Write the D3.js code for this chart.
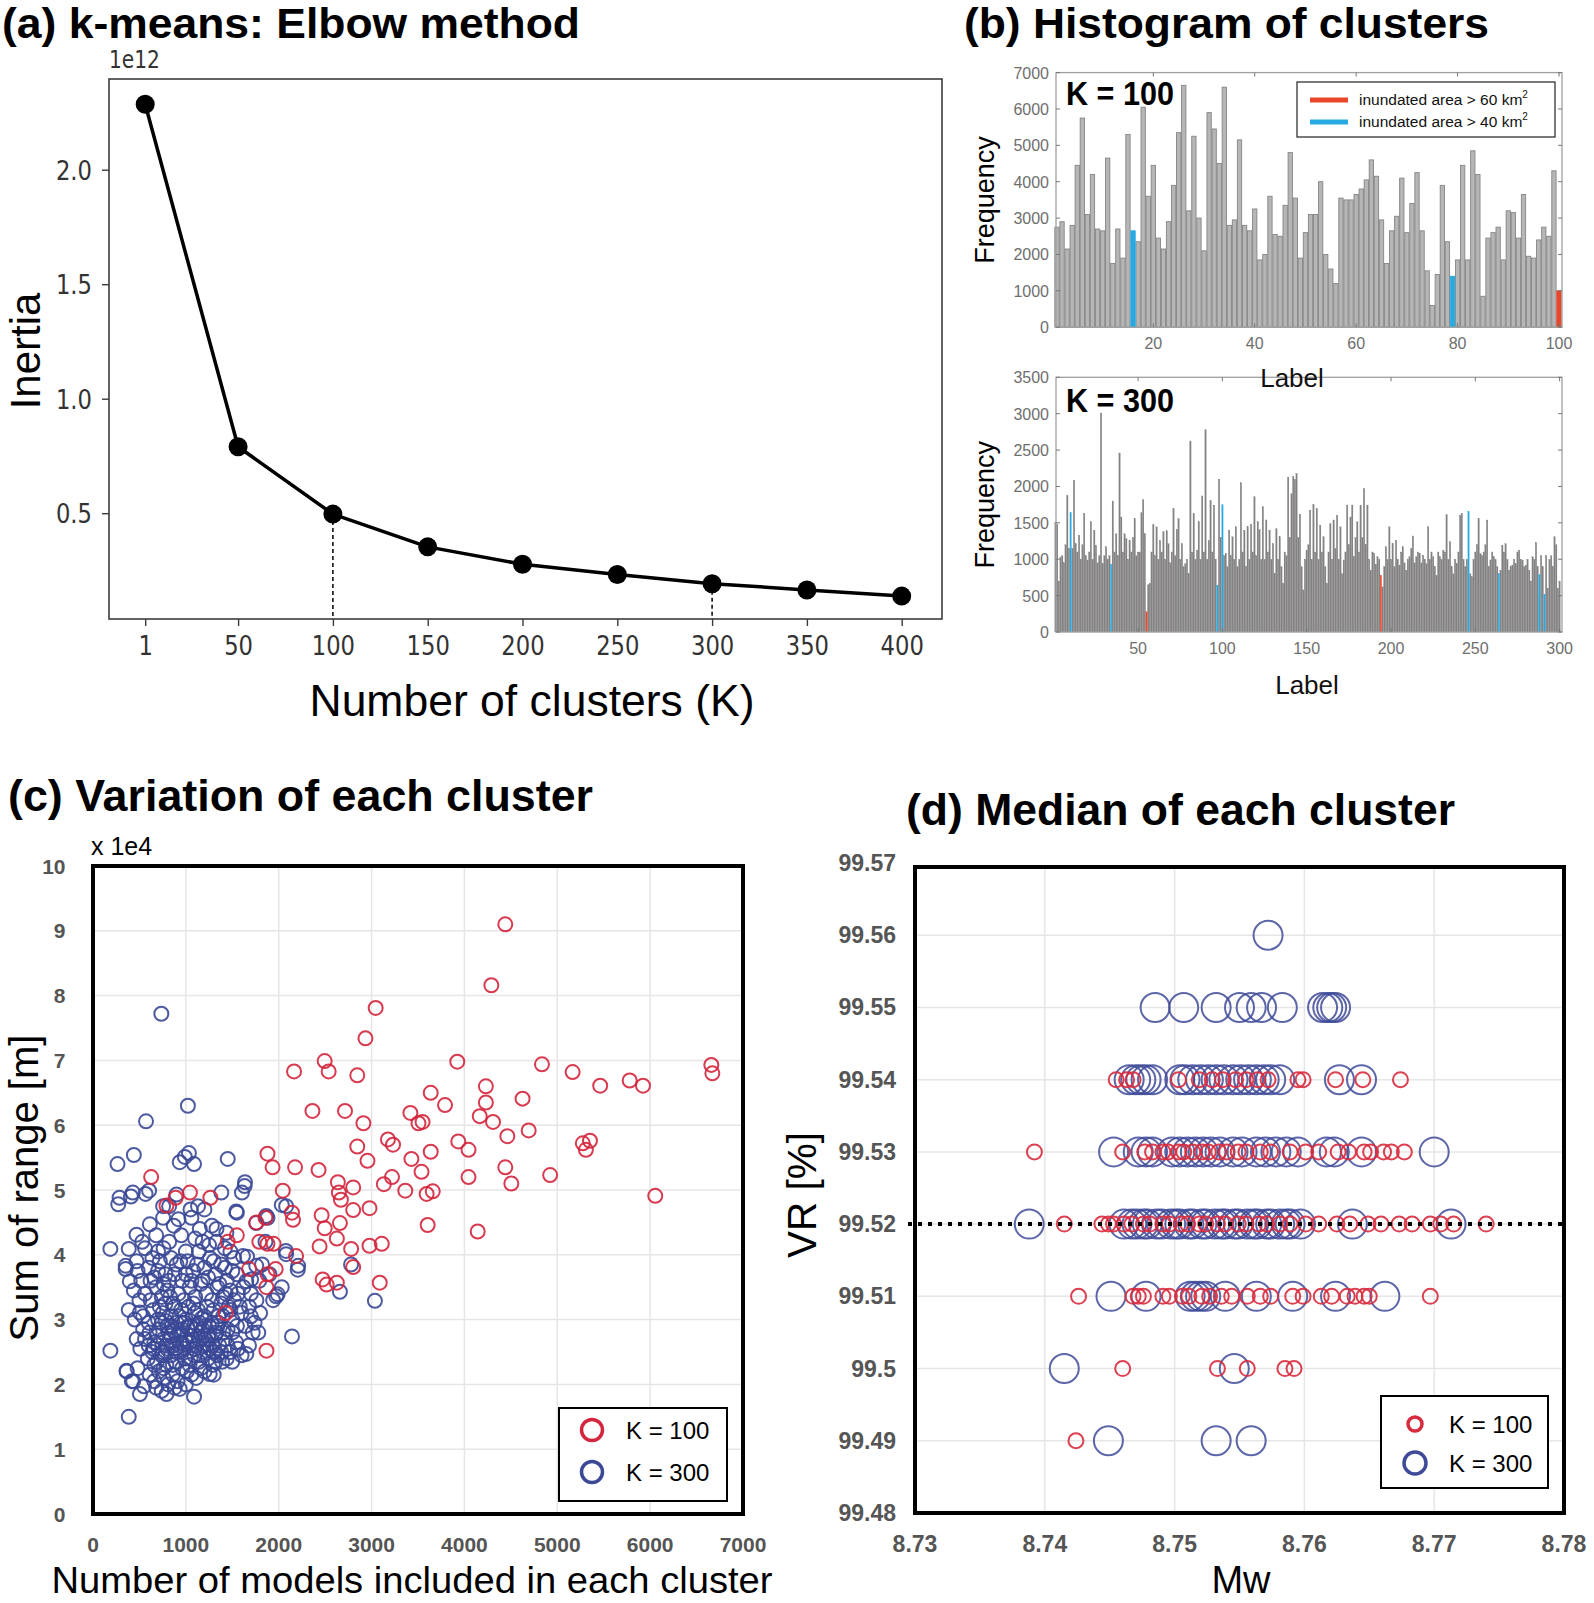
<!DOCTYPE html>
<html>
<head>
<meta charset="utf-8">
<script src="https://cdn.jsdelivr.net/npm/d3@7/dist/d3.min.js"></script>
<style>
html,body{margin:0;padding:0;background:#fff;}
svg{display:block;}
</style>
</head>
<body>
<svg id="fig" width="1594" height="1603" xmlns="http://www.w3.org/2000/svg"></svg>
<script>
// ---------------- (a) Elbow method ----------------
const elbowK = [1, 50, 100, 150, 200, 250, 300, 350, 400];
const elbowInertia = [2.286, 0.790, 0.496, 0.353, 0.277, 0.232, 0.192, 0.165, 0.138]; // x 1e12
const elbowXTicks = [1, 50, 100, 150, 200, 250, 300, 350, 400];
const elbowYTicks = [0.5, 1.0, 1.5, 2.0];
const elbowMarked = [100, 300];

// ---------------- (b) Histograms ----------------
const hist100 = [2750,2900,2150,2800,4450,5750,3100,4200,2700,2650,
4650,1750,2700,1900,5300,2650,2350,6050,3600,4450,
2450,2150,2900,3900,5350,6650,3200,5250,3000,2100,
5900,5450,4500,6600,2800,2950,5150,2800,2650,3250,
1850,2000,3600,2550,2500,3350,4800,3550,1900,2600,
3100,3100,4000,2000,1600,1200,3550,3500,3500,3650,
3800,4050,4600,4150,2950,1750,2650,3050,4100,2600,
3400,4250,2650,1550,600,1450,3900,2350,1400,1850,
4450,1850,4850,4200,850,2450,2600,2750,1850,3200,
3150,2450,3650,1950,1900,2400,2750,2500,4300,1000];
const hist100Blue = [16, 79];
const hist100Red = [100];
const hist100XTicks = [20, 40, 60, 80, 100];
const hist100YTicks = [0, 1000, 2000, 3000, 4000, 5000, 6000, 7000];

const hist300 = [1510,1480,700,1030,1050,950,1200,1880,1150,1640,
1150,2085,1215,1100,1330,1000,1200,1630,1050,990,
1100,1515,1000,1400,1190,950,1050,3010,940,1050,
1170,1000,1050,930,1800,1100,1350,1050,2460,1580,
1100,1350,1285,1000,1260,1100,1300,1560,1050,1100,
1100,1640,1820,1350,280,650,670,1100,1480,1050,
1445,1000,1260,1100,1380,1000,1390,1215,950,1100,
1700,1050,1410,1560,1000,1215,900,940,1000,800,
2625,1100,1630,1000,1125,1515,1000,1870,1100,2780,
1000,1255,1810,1100,1745,1000,645,2100,1300,1750,
1050,1080,900,1400,1050,1310,1000,1445,900,1000,
2050,1100,1400,900,1450,1000,1480,1100,1860,1050,
1515,1410,1000,1720,1000,1540,1100,1400,1000,1215,
800,1420,1000,1310,900,670,1100,1050,2130,1300,
1900,2140,2100,2180,1300,1620,900,580,1000,1125,
1200,1675,1000,1755,1100,1700,1000,1470,1100,1310,
900,670,1100,1490,1000,1540,1150,1605,1000,1445,
800,990,1100,1745,1200,1580,1745,1035,1300,1515,
1100,1745,1300,1970,1200,1745,1000,850,1100,1080,
930,1035,1000,780,620,900,1170,1000,1445,1000,
1220,900,1260,1000,920,1100,1170,950,850,1000,
1035,1150,1320,950,1035,1100,1080,950,1055,1000,
940,1445,1000,1100,1035,900,780,1100,1035,1000,
1125,1100,1615,1000,1240,900,800,1000,940,1100,
1605,1630,1000,900,1000,1660,800,760,1000,1100,
1200,1560,1080,1050,1100,1200,1540,900,990,1100,
1035,1000,900,800,850,1195,1100,1215,1000,850,
900,920,1000,940,1100,1125,1000,990,900,920,
1000,850,700,1035,1000,1230,900,790,1050,900,
520,1050,600,1000,1050,900,1310,1200,600,700];
const hist300Blue = [10, 34, 97, 100, 246, 264, 288, 291];
const hist300Red = [55, 194];
const hist300XTicks = [50, 100, 150, 200, 250, 300];
const hist300YTicks = [0, 500, 1000, 1500, 2000, 2500, 3000, 3500];
const histLegendLabels = ['inundated area > 60 km', 'inundated area > 40 km'];

// ---------------- (c) Variation of each cluster ----------------
// [number of models, sum of range (x 1e4 m)]
const varK100 = [[4440,9.10],[4290,8.16],[3044,7.81],[2934,7.34],[2495,6.99],[2538,6.83],[2165,6.83],[2846,6.77],[3923,6.98],[4835,6.94],
[5165,6.82],[5462,6.61],[5780,6.69],[5923,6.61],[6659,6.93],[6670,6.80],[2363,6.22],[2714,6.22],[3637,6.50],[3418,6.19],
[3505,6.03],[3549,6.05],[3791,6.31],[4231,6.60],[4231,6.35],[4165,6.14],[4308,6.05],[4626,6.41],[4462,5.83],[4692,5.92],
[3934,5.75],[4044,5.62],[3637,5.59],[4440,5.35],[4505,5.10],[4044,5.20],[4923,5.23],[5275,5.72],[5352,5.76],[5308,5.62],
[6055,4.91],[4143,4.36],[3538,5.28],[3593,4.94],[3659,4.98],[3604,4.46],[2912,6.03],[3176,5.78],[3231,5.70],[2956,5.45],
[3220,5.20],[3132,5.09],[3363,4.99],[2802,5.04],[2978,4.72],[2637,5.12],[2648,4.96],[2670,4.85],[2802,4.69],[2659,4.49],
[2495,4.41],[2626,4.25],[2780,4.09],[2978,4.14],[3110,4.17],[2440,4.13],[2802,3.81],[2473,3.62],[2516,3.54],[2626,3.57],
[3088,3.57],[2187,3.98],[2154,4.54],[1879,5.56],[1934,5.35],[2176,5.35],[1857,4.57],[1879,4.17],[1945,4.17],[1967,3.78],
[1879,3.70],[1868,2.52],[1429,3.10],[1451,4.20],[626,5.20],[1044,4.96],[890,4.88],[791,4.76],[1264,4.88],[1681,3.78],
[1791,4.20],[2462,4.61],[2143,4.65],[1758,4.50],[2044,4.99],[2846,5.67],[3429,5.48],[1868,3.50],[2429,5.31],[1549,4.30]];
const varK300 = [[736,7.72],[1022,6.30],[571,6.06],[264,5.40],[440,5.54],[934,5.43],[989,5.51],[1033,5.57],[1088,5.40],[1451,5.48],
[286,4.88],[429,4.96],[604,4.99],[187,4.09],[385,4.09],[352,3.83],[352,3.78],[396,3.59],[385,3.15],[187,2.52],
[385,1.50],[363,2.20],[418,2.05],[1088,1.81],[549,1.97],[1604,4.96],[1637,5.12],[1549,4.65],[2033,4.77],[1879,4.57],
[2077,4.06],[2209,3.83],[1989,3.39],[2033,3.50],[2143,2.74],[2659,3.43],[3036,3.29],[1857,4.20],[1659,3.97],[1703,3.62],
[505,3.11],[469,4.31],[612,4.47],[755,4.57],[272,4.78],[408,4.90],[566,4.94],[755,4.75],[899,4.93],[1060,4.57],
[1131,4.75],[1382,4.96],[1543,4.67],[1436,4.34],[1633,5.06],[1758,4.49],[2080,4.75],[1866,4.60],[2080,4.01],[2205,3.77],
[2779,3.85],[1973,3.36],[1651,3.59],[1758,3.83],[1615,3.98],[1651,2.47],[1257,2.16],[934,1.93],[792,1.85],[505,1.85],
[433,2.05],[361,2.21],
[820,4.20],[700,4.05],[950,4.30],[1150,4.40],[1250,4.15],[1330,4.40],[870,4.45],[640,3.95],[560,4.10],[480,3.75],
[520,3.60],[600,3.80],[660,3.65],[720,3.90],[780,3.70],[840,3.95],[900,3.85],[960,3.60],[1020,3.90],[1080,3.75],
[1140,4.05],[1200,3.80],[1260,3.95],[1320,3.70],[1380,3.85],[1440,3.60],[1500,3.75],[1560,3.40],[1420,4.10],[1180,4.20],
[560,3.40],[620,3.30],[680,3.50],[740,3.35],[800,3.45],[860,3.25],[920,3.40],[980,3.30],[1040,3.50],[1100,3.35],
[1160,3.55],[1220,3.40],[1280,3.30],[1340,3.50],[1400,3.35],[1460,3.20],[1520,3.30],[1600,3.10],[1680,3.20],[1740,2.95],
[540,3.05],[600,2.95],[650,3.15],[700,3.00],[750,3.10],[800,2.90],[850,3.05],[900,2.95],[950,3.15],[1000,3.00],
[1050,2.90],[1100,3.10],[1150,2.95],[1200,3.05],[1250,2.90],[1300,3.15],[1350,2.95],[1400,3.05],[1450,2.85],[1500,3.00],
[560,2.70],[610,2.80],[660,2.65],[710,2.85],[760,2.70],[810,2.80],[860,2.60],[910,2.75],[960,2.85],[1010,2.65],
[1060,2.75],[1110,2.60],[1160,2.80],[1210,2.70],[1260,2.55],[1310,2.75],[1360,2.60],[1420,2.70],[1480,2.50],[1540,2.65],
[590,2.40],[640,2.50],[690,2.35],[740,2.45],[790,2.30],[840,2.45],[890,2.35],[940,2.50],[990,2.40],[1040,2.30],
[1090,2.45],[1140,2.35],[1190,2.50],[1240,2.40],[1290,2.30],[1340,2.45],[1390,2.35],[1600,2.45],[1680,2.60],[1720,2.80],
[610,2.15],[660,2.05],[710,2.20],[760,2.10],[810,2.00],[860,2.15],[910,2.05],[1010,2.20],[1110,2.10],[1160,2.25],
[680,1.95],[740,1.90],[880,1.95],[1000,2.00],[1300,2.15],
[720,3.20],[780,3.25],[830,3.35],[880,3.20],[930,3.05],[980,2.95],[1030,3.20],[1080,3.25],[1130,3.15],[1180,2.85],
[1230,3.20],[1280,2.95],[1330,2.80],[1380,3.25],[1430,3.40],[1480,3.15],[690,2.75],[740,2.95],[790,2.60],[840,2.75],
[890,2.55],[940,2.65],[990,2.55],[1040,2.65],[1090,2.55],[1140,2.70],[1190,2.60],[1240,2.75],[1290,2.60],[1340,2.90],
[650,2.55],[700,2.60],[750,2.50],[800,2.55],[850,2.90],[900,2.50],[950,2.95],[1000,2.70],[1050,2.40],[1100,2.85],
[1150,2.45],[1200,2.90],[1250,2.70],[1300,2.50],[1350,3.05],[1400,2.80],[1450,2.60],[1500,2.80],[1550,2.90],[1580,3.20],
[620,3.60],[700,3.75],[760,3.55],[820,3.60],[880,3.70],[940,3.90],[1000,3.70],[1060,3.60],[1120,3.85],[1180,3.60],
[1240,3.65],[1300,3.90],[1360,3.55],[1420,3.80],[1480,3.45],[1550,3.70],[1620,3.50],[1700,3.40],[1760,3.30],[1800,3.10],
[1640,2.90],[1700,3.05],[1780,2.80],[1560,2.55],[1500,2.35],[1440,2.40],[1380,2.50],[1320,2.35],[1200,2.20],[1060,2.15],
[960,2.25],[860,2.30],[760,2.25],[660,2.30],[600,2.60],[540,2.85],[510,2.55],[480,2.25],[470,2.70],[500,3.30],
[450,3.00],[440,3.45],[470,3.90],[530,4.20],[680,4.30],[760,4.10],[1000,4.05],[1100,4.25],[1280,4.45],[1050,4.70],
[820,4.75],[920,4.55],[1200,4.70],[1330,4.20],[1480,4.05],[1520,3.95],[1790,3.60],[1820,3.85],[1900,3.70],[1940,3.30],
[870,2.82],[930,2.78],[1020,2.88],[1080,2.68],[1120,2.92],[970,2.62],[830,2.68],[1230,2.62],[1170,3.02],[780,2.98]];
const varXTicks = [0, 1000, 2000, 3000, 4000, 5000, 6000, 7000];
const varYTicks = [0, 1, 2, 3, 4, 5, 6, 7, 8, 9, 10];

// ---------------- (d) Median of each cluster ----------------
const medK100 = [
  {vr: 99.54, mw: [8.7455,8.7463,8.7468,8.7503,8.7519,8.7529,8.7537,8.7547,8.7555,8.7564,8.7572,8.7595,8.7599,8.7624,8.7645,8.7674]},
  {vr: 99.53, mw: [8.7392,8.7460,8.7477,8.7483,8.7491,8.7495,8.7503,8.7507,8.7514,8.7521,8.7526,8.7534,8.7540,8.7549,8.7555,8.7566,8.7574,8.7589,8.7601,8.7611,8.7626,8.7634,8.7646,8.7651,8.7661,8.7667,8.7677]},
  {vr: 99.52, mw: [8.7415,8.7444,8.7449,8.7453,8.7461,8.7467,8.7476,8.7481,8.7491,8.7496,8.7505,8.7510,8.7519,8.7524,8.7533,8.7539,8.7549,8.7555,8.7565,8.7571,8.7581,8.7589,8.7601,8.7611,8.7625,8.7635,8.7649,8.7659,8.7673,8.7683,8.7697,8.7705,8.7715,8.7740]},
  {vr: 99.51, mw: [8.7426,8.7468,8.7472,8.7476,8.7491,8.7496,8.7506,8.7511,8.7521,8.7527,8.7536,8.7544,8.7556,8.7566,8.7574,8.7591,8.7599,8.7613,8.7621,8.7633,8.7639,8.7646,8.7650,8.7697]},
  {vr: 99.50, mw: [8.7460,8.7533,8.7556,8.7585,8.7592]},
  {vr: 99.49, mw: [8.7424]}
];
const medK300 = [
  {vr: 99.56, mw: [8.7572]},
  {vr: 99.55, mw: [8.7485,8.7507,8.7532,8.7550,8.7559,8.7567,8.7583,8.7614,8.7618,8.7621,8.7624]},
  {vr: 99.54, mw: [8.7465,8.7470,8.7474,8.7478,8.7483,8.7504,8.7508,8.7514,8.7520,8.7526,8.7532,8.7538,8.7545,8.7551,8.7557,8.7563,8.7569,8.7574,8.7581,8.7627,8.7644]},
  {vr: 99.53, mw: [8.7453,8.7472,8.7478,8.7483,8.7498,8.7504,8.7510,8.7516,8.7522,8.7528,8.7535,8.7545,8.7552,8.7563,8.7570,8.7578,8.7586,8.7595,8.7617,8.7623,8.7644,8.7700]},
  {vr: 99.52, mw: [8.7388,8.7461,8.7467,8.7471,8.7476,8.7479,8.7486,8.7490,8.7497,8.7501,8.7504,8.7511,8.7514,8.7521,8.7524,8.7531,8.7536,8.7539,8.7546,8.7549,8.7556,8.7561,8.7564,8.7571,8.7574,8.7581,8.7586,8.7589,8.7597,8.7637,8.7713]},
  {vr: 99.51, mw: [8.7451,8.7478,8.7512,8.7516,8.7520,8.7524,8.7539,8.7563,8.7591,8.7624,8.7662]},
  {vr: 99.50, mw: [8.7415,8.7546]},
  {vr: 99.49, mw: [8.7449,8.7532,8.7559]}
];
const medXTicks = [8.73, 8.74, 8.75, 8.76, 8.77, 8.78];
const medYTicks = [99.48, 99.49, 99.50, 99.51, 99.52, 99.53, 99.54, 99.55, 99.56, 99.57];
const medThreshold = 99.52;

// ======================================================================
const SANS = 'Liberation Sans, Arial, Helvetica, sans-serif';
const DJ = 'DejaVu Sans, sans-serif';
const svg = d3.select('#fig');
svg.append('rect').attr('width', 1594).attr('height', 1603).attr('fill', '#fff');

function condense(sel, f) {
  sel.each(function () {
    const w = this.getComputedTextLength();
    d3.select(this).attr('textLength', w * f).attr('lengthAdjust', 'spacingAndGlyphs');
  });
}
function label(g, x, y, s, o) {
  o = o || {};
  const t = g.append('text').attr('x', x).attr('y', y).text(s)
    .attr('font-family', o.family || SANS).attr('font-size', o.size || 20)
    .attr('font-weight', o.weight || 'normal').attr('fill', o.fill || '#000')
    .attr('text-anchor', o.anchor || 'start');
  if (o.rotate) t.attr('transform', `rotate(${o.rotate},${x},${y})`);
  if (o.len) t.attr('textLength', o.len).attr('lengthAdjust', 'spacingAndGlyphs');
  return t;
}

// ---------------- Panel (a) ----------------
{
  const g = svg.append('g');
  const x = d3.scaleLinear().domain([0, 400]).range([143.3, 901.7]);
  const y = d3.scaleLinear().domain([0, 2]).range([627.7, 169.7]);
  g.append('rect').attr('x', 109).attr('y', 79).attr('width', 833).attr('height', 540)
    .attr('fill', 'none').attr('stroke', '#3c3c3c').attr('stroke-width', 1.6);
  const xa = g.append('g').attr('transform', 'translate(0,619)')
    .call(d3.axisBottom(x).tickValues(elbowXTicks).tickSize(7).tickFormat(d => String(d)));
  const ya = g.append('g').attr('transform', 'translate(109,0)')
    .call(d3.axisLeft(y).tickValues(elbowYTicks).tickSize(7).tickFormat(d3.format('.1f')));
  [xa, ya].forEach(a => {
    a.select('.domain').remove();
    a.selectAll('line').attr('stroke', '#3c3c3c').attr('stroke-width', 1.4);
    a.selectAll('text').attr('font-family', DJ).attr('font-size', 27).attr('fill', '#333');
  });
  xa.selectAll('text').attr('y', 36).attr('dy', 0);
  ya.selectAll('text').attr('x', -17).attr('dy', '0.36em');
  condense(xa.selectAll('text'), 0.84);
  condense(ya.selectAll('text'), 0.84);

  const pts = elbowK.map((k, i) => [k, elbowInertia[i]]);
  elbowMarked.forEach(k => {
    const v = elbowInertia[elbowK.indexOf(k)];
    g.append('line').attr('x1', x(k)).attr('x2', x(k)).attr('y1', y(v)).attr('y2', 619)
      .attr('stroke', '#000').attr('stroke-width', 1.5).attr('stroke-dasharray', '4,3');
  });
  g.append('path').datum(pts).attr('d', d3.line().x(d => x(d[0])).y(d => y(d[1])))
    .attr('fill', 'none').attr('stroke', '#000').attr('stroke-width', 3.5).attr('stroke-linejoin', 'round');
  g.selectAll('circle.m').data(pts).join('circle').attr('class', 'm')
    .attr('cx', d => x(d[0])).attr('cy', d => y(d[1])).attr('r', 9.5).attr('fill', '#000');

  const e = label(g, 109, 68, '1e12', {family: DJ, size: 24, fill: '#333'});
  condense(e, 0.84);
  label(g, 40, 351, 'Inertia', {size: 42, anchor: 'middle', rotate: -90});
  label(g, 532, 716, 'Number of clusters (K)', {size: 44, anchor: 'middle', len: 445});
  label(g, 2, 38, '(a) k-means: Elbow method', {size: 42, weight: 'bold', len: 578});
}

// ---------------- Panel (b) ----------------
const HRED = '#e8472a', HBLUE = '#27a9e1';
function drawHist(o) {
  const g = svg.append('g');
  const x = d3.scaleLinear().domain(o.xDomain).range(o.xRange);
  const y = d3.scaleLinear().domain(o.yDomain).range(o.yRange);
  const F = o.frame;
  const isRed = i => o.red.includes(i + 1), isBlue = i => o.blue.includes(i + 1);
  const data = o.values.map((v, i) => ({i, v}));
  const order = data.filter(d => !isRed(d.i) && !isBlue(d.i)).concat(data.filter(d => isRed(d.i) || isBlue(d.i)));
  g.selectAll('rect.bar').data(order).join('rect').attr('class', 'bar')
    .attr('x', d => x(d.i + 1) - o.bw / 2).attr('width', o.bw)
    .attr('y', d => y(d.v)).attr('height', d => y(0) - y(d.v))
    .attr('fill', d => isRed(d.i) ? HRED : isBlue(d.i) ? HBLUE : o.fill)
    .attr('stroke', d => isRed(d.i) ? HRED : isBlue(d.i) ? HBLUE : o.stroke)
    .attr('stroke-width', o.sw);
  g.append('rect').attr('x', F.l).attr('y', F.t).attr('width', F.r - F.l).attr('height', F.b - F.t)
    .attr('fill', 'none').attr('stroke', '#a0a0a0').attr('stroke-width', 1.3);
  o.xTicks.forEach(t => {
    g.append('line').attr('x1', x(t)).attr('x2', x(t)).attr('y1', F.b).attr('y2', F.b - 4).attr('stroke', '#777');
    g.append('line').attr('x1', x(t)).attr('x2', x(t)).attr('y1', F.t).attr('y2', F.t + 4).attr('stroke', '#777');
    label(g, x(t), F.b + 22, String(t), {size: 16, fill: '#6e6e6e', anchor: 'middle'});
  });
  o.yTicks.forEach(t => {
    g.append('line').attr('x1', F.l).attr('x2', F.l + 4).attr('y1', y(t)).attr('y2', y(t)).attr('stroke', '#777');
    g.append('line').attr('x1', F.r).attr('x2', F.r - 4).attr('y1', y(t)).attr('y2', y(t)).attr('stroke', '#777');
    label(g, 1049, y(t) + 6, String(t), {size: 16, fill: '#6e6e6e', anchor: 'end'});
  });
  label(g, 994, (F.t + F.b) / 2, 'Frequency', {size: 27, anchor: 'middle', rotate: -90});
  label(g, F.l + 10, o.kY, o.kText, {size: 34, weight: 'bold', len: 108});
  return g;
}
drawHist({
  values: hist100, blue: hist100Blue, red: hist100Red,
  xDomain: [0, 100], xRange: [1051.9, 1559.0], yDomain: [0, 7000], yRange: [327.2, 72.6],
  frame: {l: 1056, r: 1562, t: 72.6, b: 327.2}, xTicks: hist100XTicks, yTicks: hist100YTicks,
  bw: 4.3, fill: '#b6b6b6', stroke: '#858585', sw: 0.9, kText: 'K = 100', kY: 105
});
drawHist({
  values: hist300, blue: hist300Blue, red: hist300Red,
  xDomain: [0, 300], xRange: [1053.8, 1559.6], yDomain: [0, 3500], yRange: [632, 377.3],
  frame: {l: 1056, r: 1562, t: 377.3, b: 632}, xTicks: hist300XTicks, yTicks: hist300YTicks,
  bw: 1.5, fill: '#838181', stroke: '#838181', sw: 0.2, kText: 'K = 300', kY: 412
});
{
  const g = svg.append('g');
  g.append('rect').attr('x', 1297).attr('y', 82).attr('width', 258).attr('height', 55)
    .attr('fill', '#fff').attr('stroke', '#222').attr('stroke-width', 1.2);
  [[HRED, 100], [HBLUE, 122]].forEach(([c, yy], i) => {
    g.append('line').attr('x1', 1310).attr('x2', 1348).attr('y1', yy).attr('y2', yy)
      .attr('stroke', c).attr('stroke-width', 5);
    const t = label(g, 1359, yy + 5, histLegendLabels[i], {size: 15.5, fill: '#111'});
    t.append('tspan').attr('dy', -7).attr('font-size', 10).text('2');
  });
  label(g, 1292, 387, 'Label', {size: 26, anchor: 'middle', fill: '#111'});
  label(g, 1307, 694, 'Label', {size: 26, anchor: 'middle', fill: '#111'});
  label(g, 964, 38, '(b) Histogram of clusters', {size: 42, weight: 'bold', len: 525});
}

// ---------------- Panel (c) ----------------
const CRED = '#d3263d', CBLUE = '#3a4896';
{
  const g = svg.append('g');
  const x = d3.scaleLinear().domain([0, 7000]).range([93, 743]);
  const y = d3.scaleLinear().domain([0, 10]).range([1514, 866]);
  varXTicks.slice(1, -1).forEach(t => g.append('line').attr('x1', x(t)).attr('x2', x(t)).attr('y1', 866).attr('y2', 1514).attr('stroke', '#e6e6e6').attr('stroke-width', 1.5));
  varYTicks.slice(1, -1).forEach(t => g.append('line').attr('x1', 93).attr('x2', 743).attr('y1', y(t)).attr('y2', y(t)).attr('stroke', '#e6e6e6').attr('stroke-width', 1.5));
  g.selectAll('circle.b').data(varK300).join('circle').attr('class', 'b')
    .attr('cx', d => x(d[0])).attr('cy', d => y(d[1])).attr('r', 7)
    .attr('fill', 'none').attr('stroke', CBLUE).attr('stroke-width', 2).attr('stroke-opacity', 0.9);
  g.selectAll('circle.r').data(varK100).join('circle').attr('class', 'r')
    .attr('cx', d => x(d[0])).attr('cy', d => y(d[1])).attr('r', 7)
    .attr('fill', 'none').attr('stroke', CRED).attr('stroke-width', 2).attr('stroke-opacity', 0.9);
  g.append('rect').attr('x', 93).attr('y', 866).attr('width', 650).attr('height', 648)
    .attr('fill', 'none').attr('stroke', '#000').attr('stroke-width', 4);
  varXTicks.forEach(t => label(g, x(t), 1552, String(t), {size: 21, weight: 'bold', fill: '#555', anchor: 'middle'}));
  varYTicks.forEach(t => label(g, 65.5, y(t) + 7.5, String(t), {size: 21, weight: 'bold', fill: '#555', anchor: 'end'}));
  // legend
  g.append('rect').attr('x', 559).attr('y', 1408).attr('width', 168).attr('height', 93)
    .attr('fill', '#fff').attr('stroke', '#000').attr('stroke-width', 2);
  [[CRED, 1430, 'K = 100'], [CBLUE, 1472, 'K = 300']].forEach(([c, yy, s]) => {
    g.append('circle').attr('cx', 592).attr('cy', yy).attr('r', 10.5).attr('fill', 'none')
      .attr('stroke', c).attr('stroke-width', 3.5);
    label(g, 626, yy + 9, s, {size: 24});
  });
  label(g, 91, 855, 'x 1e4', {size: 25});
  label(g, 38, 1188, 'Sum of range [m]', {size: 40, anchor: 'middle', rotate: -90});
  label(g, 412, 1593, 'Number of models included in each cluster', {size: 37, anchor: 'middle', len: 721});
  label(g, 8, 811, '(c) Variation of each cluster', {size: 44, weight: 'bold', len: 585});
}

// ---------------- Panel (d) ----------------
const DRED = '#d82c3e', DBLUE = '#3f4b99';
{
  const g = svg.append('g');
  const x = d3.scaleLinear().domain([8.73, 8.78]).range([915, 1564]);
  const y = d3.scaleLinear().domain([99.48, 99.57]).range([1513, 863]);
  medXTicks.slice(1, -1).forEach(t => g.append('line').attr('x1', x(t)).attr('x2', x(t)).attr('y1', 867).attr('y2', 1513).attr('stroke', '#e6e6e6').attr('stroke-width', 1.5));
  medYTicks.slice(1, -1).forEach(t => g.append('line').attr('x1', 915).attr('x2', 1564).attr('y1', y(t)).attr('y2', y(t)).attr('stroke', '#e6e6e6').attr('stroke-width', 1.5));
  const flat = arr => arr.flatMap(r => r.mw.map(m => [m, r.vr]));
  g.selectAll('circle.b').data(flat(medK300)).join('circle').attr('class', 'b')
    .attr('cx', d => x(d[0])).attr('cy', d => y(d[1])).attr('r', 14.5)
    .attr('fill', 'none').attr('stroke', DBLUE).attr('stroke-width', 2).attr('stroke-opacity', 0.85);
  g.selectAll('circle.r').data(flat(medK100)).join('circle').attr('class', 'r')
    .attr('cx', d => x(d[0])).attr('cy', d => y(d[1])).attr('r', 7.5)
    .attr('fill', 'none').attr('stroke', DRED).attr('stroke-width', 2).attr('stroke-opacity', 0.9);
  g.append('line').attr('x1', 908).attr('x2', 1562).attr('y1', y(medThreshold)).attr('y2', y(medThreshold))
    .attr('stroke', '#000').attr('stroke-width', 4).attr('stroke-dasharray', '4,6');
  g.append('rect').attr('x', 915).attr('y', 867).attr('width', 649).attr('height', 646)
    .attr('fill', 'none').attr('stroke', '#000').attr('stroke-width', 4);
  medXTicks.forEach(t => label(g, x(t), 1552, t.toFixed(2), {size: 23, weight: 'bold', fill: '#555', anchor: 'middle'}));
  medYTicks.forEach(t => label(g, 896, y(t) + 8, String(+t.toFixed(2)), {size: 23, weight: 'bold', fill: '#555', anchor: 'end'}));
  g.append('rect').attr('x', 1381).attr('y', 1396).attr('width', 167).attr('height', 92)
    .attr('fill', '#fff').attr('stroke', '#000').attr('stroke-width', 2);
  g.append('circle').attr('cx', 1415).attr('cy', 1424).attr('r', 7).attr('fill', 'none').attr('stroke', DRED).attr('stroke-width', 3.5);
  g.append('circle').attr('cx', 1415).attr('cy', 1463).attr('r', 11).attr('fill', 'none').attr('stroke', DBLUE).attr('stroke-width', 3.5);
  label(g, 1449, 1433, 'K = 100', {size: 24});
  label(g, 1449, 1472, 'K = 300', {size: 24});
  label(g, 815.5, 1195, 'VR [%]', {size: 40.5, anchor: 'middle', rotate: -90});
  label(g, 1241, 1593, 'Mw', {size: 38, anchor: 'middle'});
  label(g, 906, 825, '(d) Median of each cluster', {size: 44, weight: 'bold', len: 549});
}
</script>
</body>
</html>
